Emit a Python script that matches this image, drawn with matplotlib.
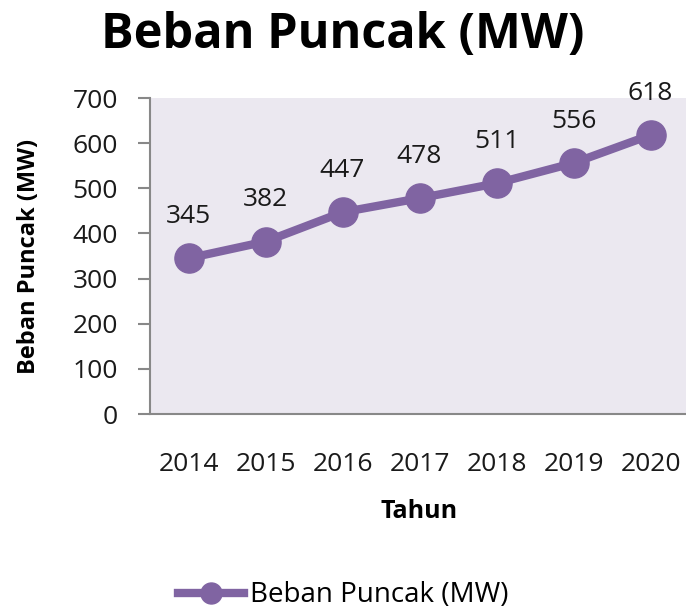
import matplotlib
matplotlib.use("Agg")
from matplotlib import pyplot as plt

years = ["2014", "2015", "2016", "2017", "2018", "2019", "2020"]
beban = [345, 382, 447, 478, 511, 556, 618]

purple = "#8064a2"
plt.rcParams["font.family"] = ["Open Sans", "DejaVu Sans"]

fig = plt.figure(figsize=(6.86, 6.10), dpi=100)
ax = fig.add_axes([0.2187, 0.3213, 0.7857, 0.518])
ax.set_facecolor("#ebe8f0")

x = list(range(len(years)))
ax.plot(x, beban, color=purple, lw=6, marker="o", ms=21,
        label="Beban Puncak (MW)")
for xi, v in zip(x, beban):
    ax.annotate(str(v), (xi, v), xytext=(0, 30), textcoords="offset points",
                ha="center", va="center", fontsize=19, color="#1a1a1a")

ax.set_xlim(-0.5, len(years) - 0.5)
ax.set_ylim(0, 700)
ax.set_yticks(range(0, 701, 100))
ax.set_xticks(x)
ax.set_xticklabels(years)
ax.tick_params(axis="y", length=9, width=1.5, color="#888888", labelsize=19,
               pad=14, labelcolor="#1a1a1a")
ax.tick_params(axis="x", length=0, labelsize=19, pad=27, labelcolor="#1a1a1a")
for s in ["top", "right"]:
    ax.spines[s].set_visible(False)
for s in ["left", "bottom"]:
    ax.spines[s].set_color("#888888")
    ax.spines[s].set_linewidth(1.5)

ax.set_ylabel("Beban Puncak (MW)", fontsize=17, fontweight="bold", labelpad=23)
ax.set_xlabel("Tahun", fontsize=18, fontweight="bold", labelpad=16)
fig.text(0.5, 1 - 48 / 610, "Beban Puncak (MW)", fontsize=35, fontweight="bold",
         ha="center", va="baseline")

fig.legend(loc="lower center", bbox_to_anchor=(0.5, -0.04), frameon=False,
           fontsize=20, handlelength=2.4, markerscale=0.72, handletextpad=0.2)

fig.savefig("out.png", dpi=100)
